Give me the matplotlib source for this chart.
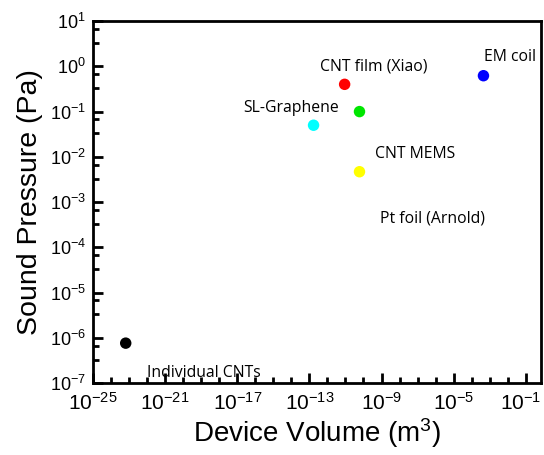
import numpy as np
import matplotlib
matplotlib.use("Agg")
import matplotlib.pyplot as plt
import matplotlib.transforms as mtransforms
from matplotlib.ticker import FixedLocator, LogFormatterSciNotation, NullFormatter

plt.rcParams["font.family"] = ["Liberation Sans", "DejaVu Sans"]
plt.rcParams["mathtext.fontset"] = "custom"
plt.rcParams["mathtext.rm"] = "Liberation Sans"
plt.rcParams["mathtext.it"] = "Liberation Sans"
plt.rcParams["mathtext.default"] = "regular"

## data
volume = [6.5e-24, 9e-12, 6e-11, 1.7e-13, 6e-11, 4.5e-4]
pressure = [7.7e-7, 0.4, 0.1, 0.05, 0.0047, 0.62]
colors = ["black", "#ff0000", "#00e600", "#00ffff", "#ffff00", "#0000ff"]

names = ["Individual CNTs", "CNT film (Xiao)", "SL-Graphene", "CNT MEMS", "Pt foil (Arnold)", "EM coil"]
name_x = [10**-18.84, 10**-9.44, 10**-14.02, 10**-7.11, 10**-6.2, 10**-1.9]
name_y = [10**-6.77, 10**0.0, 10**-0.914, 10**-1.936, 10**-3.35, 10**0.205]

fig = plt.figure(figsize=(5.44, 4.55), dpi=100)
ax = fig.add_axes([0.171, 0.1576, 0.823, 0.7962])

ax.scatter(volume, pressure, s=68, c=colors, zorder=3, linewidths=0)

for t, x, y in zip(names, name_x, name_y):
    ax.text(x, y, t, fontsize=11.3, family="Open Sans", ha="center", va="center")

ax.set_xscale("log")
ax.set_yscale("log")
ax.set_xlim(1e-25, 10**-0.17)
ax.set_ylim(1e-7, 1e1)

## ticks
ax.xaxis.set_major_locator(FixedLocator([10.0**e for e in range(-25, 0, 4)]))
ax.xaxis.set_minor_locator(FixedLocator([10.0**e for e in range(-25, 0)]))
ax.yaxis.set_major_locator(FixedLocator([10.0**e for e in range(-7, 2)]))
ym = []
for n in range(-6, 2):
    ym += [10**(n - 0.17), 10**(n - 0.48)]
ax.yaxis.set_minor_locator(FixedLocator(ym))
ax.xaxis.set_major_formatter(LogFormatterSciNotation())
ax.yaxis.set_major_formatter(LogFormatterSciNotation())
ax.xaxis.set_minor_formatter(NullFormatter())
ax.yaxis.set_minor_formatter(NullFormatter())

ax.tick_params(which="both", direction="in", width=2, top=False, right=False)
ax.tick_params(which="major", length=7)
ax.tick_params(which="minor", length=4)
ax.tick_params(axis="x", labelsize=15, pad=6)
ax.tick_params(axis="y", labelsize=13, pad=5)

for sp in ax.spines.values():
    sp.set_linewidth(2)

## last x label sits at the right edge, nudge it in a bit
last = ax.xaxis.get_major_ticks()[-1].label1
last.set_transform(last.get_transform() + mtransforms.ScaledTranslation(-5 / 100, 0, fig.dpi_scale_trans))

ax.set_xlabel("Device Volume (m$^{3}$)", fontsize=20, labelpad=2)
ax.set_ylabel("Sound Pressure (Pa)", fontsize=20.5, labelpad=5)

fig.savefig("out.png", dpi=100)
